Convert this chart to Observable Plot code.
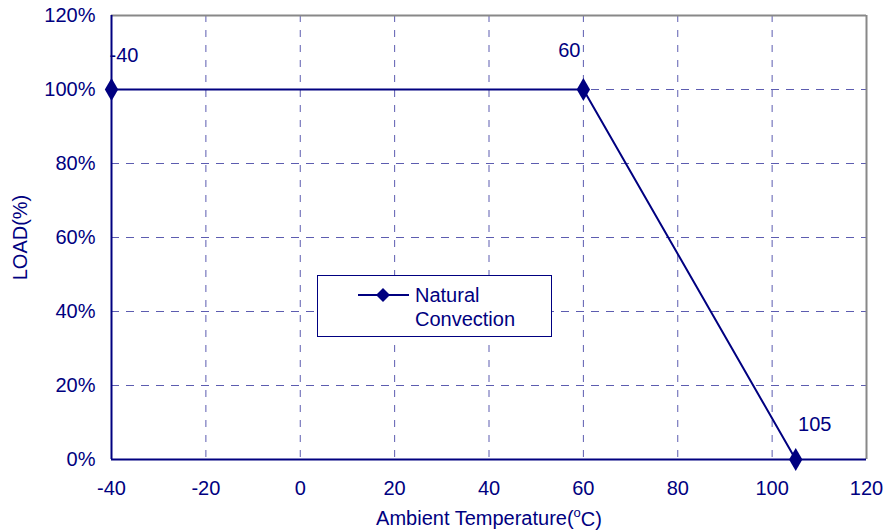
<!DOCTYPE html>
<html>
<head>
<meta charset="utf-8">
<script src="https://cdn.jsdelivr.net/npm/d3@7"></script>
<script src="https://cdn.jsdelivr.net/npm/@observablehq/plot@0.6"></script>
<style>
  html, body { margin: 0; padding: 0; background: #fff; }
  #wrap { position: relative; width: 889px; height: 531px; font-family: "Liberation Sans", Arial, sans-serif; }
  #wrap svg text { font-size: 20px; }
  #legend { position: absolute; left: 317px; top: 275px; width: 235px; height: 62px; border: 1px solid #000080; background: #fff; color: #000080; font-size: 20px; box-sizing: border-box; }
  #legend svg { position: absolute; left: 39px; top: 9px; }
  #legend .txt { position: absolute; left: 97px; top: 7px; line-height: 24px; }
</style>
</head>
<body>
<div id="wrap"></div>
<script>
const temperature = [-40, 60, 105];
const load = [100, 100, 0];
const pointLabels = ["-40", "60", "105"];
const xTicks = [-40, -20, 0, 20, 40, 60, 80, 100, 120];
const yTicks = [0, 20, 40, 60, 80, 100, 120];
const seriesName = ["Natural", "Convection"];

const navy = "#000080";
const gridColor = "#5c5cb0";
const data = temperature.map((t, i) => ({t, v: load[i], label: pointLabels[i]}));

const chart = Plot.plot({
  width: 889,
  height: 531,
  marginLeft: 111,
  marginRight: 23,
  marginTop: 15,
  marginBottom: 72,
  style: {fontFamily: "Liberation Sans, Arial, sans-serif", fontSize: "20px", color: navy, background: "#fff"},
  x: {domain: [-40, 120], ticks: xTicks, tickSize: 0, tickPadding: 21, tickFormat: d => String(d), label: "Ambient Temperature(oC)", labelAnchor: "center", labelOffset: 65},
  y: {domain: [0, 120], ticks: yTicks, tickSize: 0, tickPadding: 16, tickFormat: d => d + "%", label: "LOAD(%)", labelAnchor: "center", labelOffset: 99},
  marks: [
    Plot.gridX(xTicks.filter(d => d > -40 && d < 120), {stroke: gridColor, strokeOpacity: 1, strokeDasharray: "7,8", strokeWidth: 1}),
    Plot.gridY(yTicks.filter(d => d > 0 && d < 120), {stroke: gridColor, strokeOpacity: 1, strokeDasharray: "8,7", strokeWidth: 1}),
    Plot.ruleY([120], {stroke: "#888", strokeWidth: 2}),
    Plot.ruleX([120], {stroke: "#888", strokeWidth: 2}),
    Plot.ruleY([0], {stroke: navy, strokeWidth: 2}),
    Plot.ruleX([-40], {stroke: navy, strokeWidth: 2}),
    Plot.line(data, {x: "t", y: "v", stroke: navy, strokeWidth: 2}),
    Plot.dot(data, {x: "t", y: "v", symbol: "diamond", r: 7, fill: navy, stroke: "none"}),
    Plot.text(data.slice(0, 1), {x: "t", y: "v", text: "label", textAnchor: "start", dx: -2, dy: -34, fill: navy}),
    Plot.text(data.slice(1, 2), {x: "t", y: "v", text: "label", textAnchor: "middle", dx: -14, dy: -39, fill: navy}),
    Plot.text(data.slice(2, 3), {x: "t", y: "v", text: "label", textAnchor: "middle", dx: 19, dy: -35, fill: navy})
  ]
});

// remove arrows, superscript "o" in the x-axis label
const ns = "http://www.w3.org/2000/svg";
chart.querySelectorAll("text").forEach(t => {
  const s = t.textContent;
  if (/[→↑←↓]/.test(s) || s.includes("(oC)")) {
    const clean = s.replace(/\s*[→↑←↓]\s*/g, "").trim();
    const target = t.querySelector("tspan") || t;
    target.textContent = "";
    if (clean.includes("(oC)")) {
      const a = document.createElementNS(ns, "tspan"); a.textContent = "Ambient Temperature(";
      const b = document.createElementNS(ns, "tspan"); b.textContent = "o"; b.setAttribute("font-size", "13px"); b.setAttribute("dy", "-0.6em");
      const c = document.createElementNS(ns, "tspan"); c.textContent = "C)"; c.setAttribute("dy", "0.45em");
      target.append(a, b, c);
    } else {
      target.textContent = clean;
    }
  }
});

const wrap = document.getElementById("wrap");
wrap.appendChild(chart);

const legend = document.createElement("div");
legend.id = "legend";
legend.innerHTML = `<svg width="54" height="20"><line x1="1" y1="10" x2="52" y2="10" stroke="${navy}" stroke-width="2"/><path d="M26,3 L33,10 L26,17 L19,10 Z" fill="${navy}"/></svg><div class="txt">${seriesName[0]}<br>${seriesName[1]}</div>`;
wrap.appendChild(legend);
</script>
</body>
</html>
